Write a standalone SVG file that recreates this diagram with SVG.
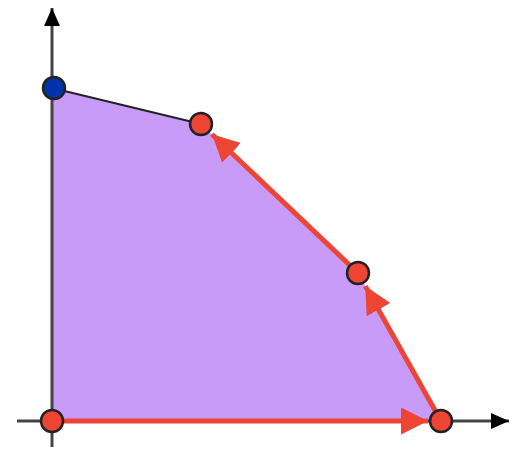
<svg xmlns="http://www.w3.org/2000/svg" width="514" height="452" viewBox="0 0 514 452">
<defs>
<marker id="axisHead" markerUnits="userSpaceOnUse" markerWidth="18" markerHeight="16" viewBox="0 0 18 16" refX="18" refY="8" orient="auto">
<path d="M0,0 L18,8 L0,16 Z" fill="#000"/>
</marker>
<marker id="redHead" markerUnits="userSpaceOnUse" markerWidth="27" markerHeight="27" viewBox="0 0 27 27" refX="27" refY="13.5" orient="auto">
<path d="M0,0 L27,13.5 L0,27 Z" fill="#ee4433"/>
</marker>
</defs>
<style>
.axis{stroke:#444;stroke-width:3;fill:none}
.edge{stroke:#222;stroke-width:2;fill:none}
.red{stroke:#ee4433;stroke-width:5;fill:none}
.pt{stroke:#222;stroke-width:2.5}
.rp{fill:#ee4433}
.bp{fill:#0033aa}
</style>
<g id="region">
<polygon points="52,88 201,124 358,273 441,421 52,421" fill="#c99bf8"/>
</g>
<g id="axes">
<line class="axis" x1="52" y1="447" x2="52" y2="8" marker-end="url(#axisHead)"/>
<line class="axis" x1="17" y1="421" x2="509" y2="421" marker-end="url(#axisHead)"/>
</g>
<g id="connectors">
<line class="edge" x1="52" y1="88" x2="201" y2="124"/>
<line class="red" x1="52" y1="421" x2="428" y2="421" marker-end="url(#redHead)"/>
<line class="red" x1="441" y1="421" x2="365.3" y2="286.1" marker-end="url(#redHead)"/>
<line class="red" x1="358" y1="273" x2="211.9" y2="134.3" marker-end="url(#redHead)"/>
</g>
<g id="p0"><circle class="pt bp" cx="54" cy="88" r="11"/></g>
<g id="p1"><circle class="pt rp" cx="201" cy="124" r="11"/></g>
<g id="p2"><circle class="pt rp" cx="358" cy="273" r="11"/></g>
<g id="p3"><circle class="pt rp" cx="441" cy="421" r="11"/></g>
<g id="p4"><circle class="pt rp" cx="52" cy="421" r="11"/></g>
</svg>
